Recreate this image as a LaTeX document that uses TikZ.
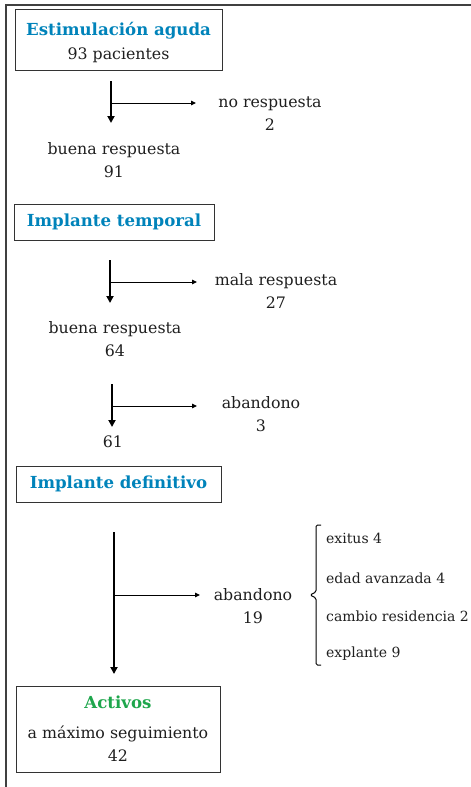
\documentclass[tikz,border=0pt]{standalone}
\usepackage{fontspec}
\setmainfont{DejaVu Serif}
\usetikzlibrary{arrows.meta}
\definecolor{azultit}{RGB}{0,131,186}
\definecolor{verdetit}{RGB}{30,166,76}
\newcommand{\tit}[2]{{\color{#1}\fontsize{16.6}{24}\selectfont\bfseries #2}}
\tikzset{
  caja/.style={draw=black!80, line width=1pt, inner sep=0pt, align=center,
    text=black!88, font=\fontsize{15.8}{24}\selectfont},
  txt/.style={align=center, text=black!88, font=\fontsize{15.8}{23}\selectfont},
  causa/.style={anchor=west, inner sep=0pt, text=black!88, font=\fontsize{14}{17}\selectfont},
  flecha/.style={line width=1.8pt, -{Triangle[length=7pt,width=7pt]}},
  rama/.style={line width=1pt, -{Triangle[length=5pt,width=4.5pt]}},
}
\begin{document}
\begin{tikzpicture}[x=1pt,y=-1pt]
\useasboundingbox (0,0) rectangle (471,787);
\draw[black!75, line width=1.2pt] (6,787) -- (6,5) -- (471,5); % marco
% cajas
\node[caja, minimum width=207pt, minimum height=61pt] (est) at (118.5,39.5)
  {\tit{azultit}{\rule{0pt}{19pt}Estimulación aguda}\\93 pacientes};
\node[caja, minimum width=200pt, minimum height=36pt] (temp) at (114,222)
  {\tit{azultit}{Implante temporal}};
\node[caja, minimum width=205pt, minimum height=36pt] (defi) at (118.5,484)
  {\tit{azultit}{Implante definitivo}};
\node[caja, minimum width=204pt, minimum height=86pt] (act) at (118,729)
  {\tit{verdetit}{Activos}\\[6pt]a máximo seguimiento\\[-1pt]42};
% textos
\node[txt] (nores) at (270,113.5) {no respuesta\\2};
\node[txt] (buena1) at (114,160) {buena respuesta\\91};
\node[txt] (mala) at (276,291) {mala respuesta\\27};
\node[txt] (buena2) at (115,339) {buena respuesta\\64};
\node[txt] (aban1) at (261,414) {abandono\\3};
\node[txt] (n61) at (113,442) {61};
\node[txt] (aban2) at (253,606.5) {abandono\\19};
\node[causa] (exitus) at (326,538) {exitus 4};
\node[causa] (edad) at (326,578) {edad avanzada 4};
\node[causa] (cambio) at (326,616) {cambio residencia 2};
\node[causa] (explante) at (326,654) {explante 9};
% flechas
\coordinate (s1) at (111,81);  \coordinate (e1) at (111,123);
\coordinate (r1) at (111,103); \coordinate (f1) at (196,103);
\coordinate (s2) at (110,260); \coordinate (e2) at (110,303);
\coordinate (r2) at (110,282); \coordinate (f2) at (197,282);
\coordinate (s3) at (112,384); \coordinate (e3) at (112,427);
\coordinate (r3) at (112,406); \coordinate (f3) at (197,406);
\coordinate (s4) at (114,532); \coordinate (e4) at (114,674);
\coordinate (r4) at (114,595); \coordinate (f4) at (200,595);
\draw[flecha] (s1) -- (e1); \draw[rama] (r1) -- (f1);
\draw[flecha] (s2) -- (e2); \draw[rama] (r2) -- (f2);
\draw[flecha] (s3) -- (e3); \draw[rama] (r3) -- (f3);
\draw[flecha] (s4) -- (e4); \draw[rama] (r4) -- (f4);
% llave
\draw[line width=1pt, rounded corners=1.5pt] (321,525) -- (316,525) -- (316,592)
  -- (310,595) -- (316,598) -- (316,665) -- (321,665);
\end{tikzpicture}
\end{document}
